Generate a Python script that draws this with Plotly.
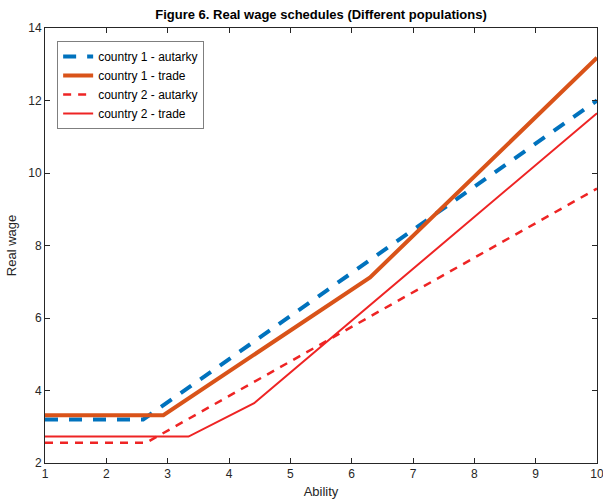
import plotly.graph_objects as go

# Real wage schedules by ability, piecewise-linear breakpoints
ability_c1_autarky = [1, 2.6, 10]
wage_c1_autarky = [3.2, 3.2, 12.0]

ability_c1_trade = [1, 2.93, 6.3, 10]
wage_c1_trade = [3.32, 3.32, 7.12, 13.18]

ability_c2_autarky = [1, 2.65, 10]
wage_c2_autarky = [2.56, 2.56, 9.57]

ability_c2_trade = [1, 3.34, 4.41, 7.18, 10]
wage_c2_trade = [2.73, 2.73, 3.65, 7.62, 11.65]

x_ticks = list(range(1, 11))
y_ticks = list(range(2, 15, 2))

BLUE = "#0072BD"
ORANGE = "#D95319"
RED = "#EE2424"
AXIS = "#262626"

fig = go.Figure()
fig.add_trace(go.Scatter(x=ability_c1_autarky, y=wage_c1_autarky, mode="lines",
                         name="country 1 - autarky",
                         line=dict(color=BLUE, width=4, dash="13px,11px")))
fig.add_trace(go.Scatter(x=ability_c1_trade, y=wage_c1_trade, mode="lines",
                         name="country 1 - trade",
                         line=dict(color=ORANGE, width=4)))
fig.add_trace(go.Scatter(x=ability_c2_autarky, y=wage_c2_autarky, mode="lines",
                         name="country 2 - autarky",
                         line=dict(color=RED, width=2.5, dash="8px,7px")))
fig.add_trace(go.Scatter(x=ability_c2_trade, y=wage_c2_trade, mode="lines",
                         name="country 2 - trade",
                         line=dict(color=RED, width=2)))

axis_common = dict(
    showgrid=False, zeroline=False, showline=True, mirror="ticks",
    linecolor=AXIS, linewidth=1, ticks="inside", ticklen=5, tickcolor=AXIS,
    ticklabeloverflow="allow", automargin=False,
    tickfont=dict(family="Liberation Sans", size=12, color=AXIS),
)

fig.update_layout(
    width=603, height=500,
    margin=dict(l=45, r=6, t=28, b=37),
    paper_bgcolor="white", plot_bgcolor="white",
    font=dict(family="Liberation Sans", color=AXIS),
    title=dict(text="<b>Figure 6. Real wage schedules (Different populations)</b>",
               x=(45 + 597) / 2 / 603, xanchor="center",
               y=1 - 14 / 500, yanchor="middle", yref="container",
               font=dict(family="Liberation Sans", size=13, color="black")),
    xaxis=dict(range=[1, 10], tickvals=x_ticks,
               title=dict(text="Ability", standoff=6,
                          font=dict(family="Liberation Sans", size=13, color=AXIS)),
               **axis_common),
    yaxis=dict(range=[2, 14], tickvals=y_ticks,
               title=dict(text="Real wage", standoff=8,
                          font=dict(family="Liberation Sans", size=13, color=AXIS)),
               **axis_common),
    legend=dict(x=0.022, y=0.97, xanchor="left", yanchor="top",
                bgcolor="white", bordercolor="#7F7F7F", borderwidth=1,
                font=dict(family="Liberation Sans", size=12, color="black"),
                tracegroupgap=0, itemwidth=30),
    showlegend=True,
)

fig.write_html("out.html")
